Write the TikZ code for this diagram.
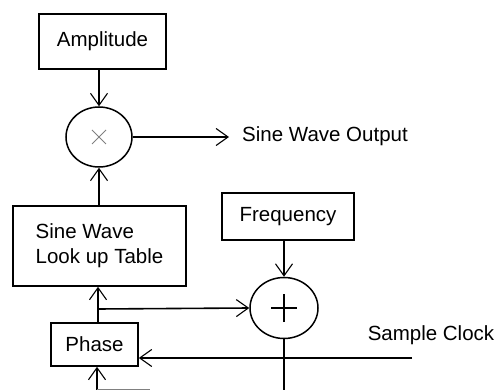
\documentclass[tikz,border=0pt]{standalone}
\usepackage{fontspec}
\setmainfont{Liberation Sans}
\usetikzlibrary{arrows.meta,shapes.geometric}
\begin{document}
\begin{tikzpicture}[x=1pt,y=-1pt,
  every node/.style={font=\fontsize{20.5}{25}\selectfont},
  blk/.style={draw,line width=1.6pt,inner sep=0pt,rectangle},
  opc/.style={draw,line width=1.5pt,ellipse,inner sep=0pt},
  wire/.style={line width=1.6pt},
  arr/.style={line width=1.6pt,-{Straight Barb[length=12pt,width=17pt,line width=1.1pt]}}]
\useasboundingbox (0,0) rectangle (498,390);
\node[blk,minimum width=127pt,minimum height=55pt] (amp) at (102.5,41.5) {Amplitude};
\node[opc,minimum width=66pt,minimum height=60pt] (mul) at (99,137) {};
\draw[gray,line width=1pt] ([shift={(-7pt,-7pt)}]mul.center) -- ([shift={(7pt,7pt)}]mul.center)
      ([shift={(-7pt,7pt)}]mul.center) -- ([shift={(7pt,-7pt)}]mul.center);
\coordinate (outtip) at (229,137);
\node[anchor=west,inner sep=0pt] (out) at (242,136) {Sine Wave Output};
\node[blk,minimum width=173pt,minimum height=80pt,align=left] (sine) at (99.5,246) {Sine Wave\\Look up Table};
\node[blk,minimum width=132pt,minimum height=47pt] (freq) at (288,216.5) {Frequency};
\node[opc,minimum width=68pt,minimum height=61pt] (add) at (284,308) {};
\draw[line width=1.5pt] ([xshift=-13pt]add.center) -- ([xshift=13pt]add.center)
      ([yshift=-14pt]add.center) -- ([yshift=14pt]add.center);
\node[blk,minimum width=87pt,minimum height=43pt] (phase) at (94.5,344.5) {Phase};
\coordinate (j) at (98,309);
\coordinate (clk) at (412,358);
\node[inner sep=0pt] (clktxt) at (431,335) {Sample Clock};
\coordinate (b1) at (97,390);
\coordinate (b2) at (150,389);
\coordinate (b3) at (284,390);
% connectors
\draw[arr] (amp.south -| mul.north) -- (mul.north);
\draw[arr] (mul.east) -- (outtip);
\draw[arr] (sine.north -| mul.south) -- (mul.south);
\draw[arr] (freq.south -| add.north) -- (add.north);
\draw[arr] (phase.north -| j) -- (sine.south -| j);
\draw[arr] (j) -- (add.west);
\draw[arr] (clk) -- (clk -| phase.east);
\draw[arr] (b1) -- (b1 |- phase.south);
\draw[gray,line width=1pt] (97,389) -- (b2);
\draw[wire] (add.south) -- (b3);
\end{tikzpicture}
\end{document}
